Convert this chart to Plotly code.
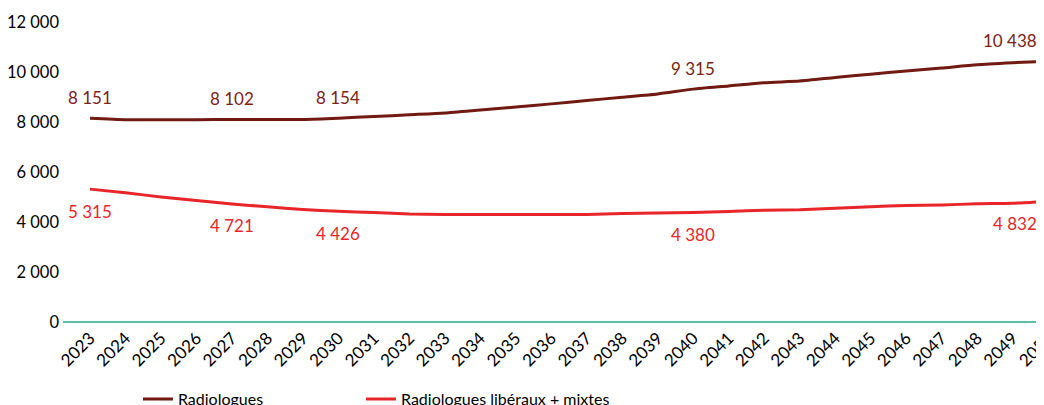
import plotly.graph_objects as go

years = list(range(2023, 2051))

radiologues = [8151, 8095, 8090, 8092, 8102, 8100, 8105, 8154, 8220, 8290,
               8360, 8480, 8600, 8725, 8860, 8990, 9120, 9315, 9440, 9570,
               9640, 9780, 9910, 10040, 10160, 10290, 10370, 10438]

liberaux = [5315, 5170, 5000, 4860, 4721, 4610, 4500, 4426, 4380, 4320,
            4300, 4300, 4300, 4300, 4300, 4340, 4360, 4380, 4420, 4470,
            4490, 4550, 4610, 4660, 4680, 4730, 4750, 4832]

# years that get a value label in the source chart
label_years = [2023, 2027, 2030, 2040, 2050]

y_ticks = [0, 2000, 4000, 6000, 8000, 10000, 12000]
y_ticktext = ["0", "2 000", "4 000", "6 000", "8 000", "10 000", "12 000"]

DARK = "#701A12"
RED = "#E8262A"
FONT = "Lato"


def fmt(v):
    return f"{v:,}".replace(",", " ")


fig = go.Figure()
fig.add_trace(go.Scatter(x=years, y=radiologues, mode="lines", name="Radiologues",
                         legend="legend",
                         line=dict(color=DARK, width=3, shape="spline", smoothing=0.6)))
fig.add_trace(go.Scatter(x=years, y=liberaux, mode="lines", name="Radiologues libéraux + mixtes",
                         legend="legend2",
                         line=dict(color=RED, width=3, shape="spline", smoothing=0.6)))

for yr in label_years:
    i = years.index(yr)
    last = yr == years[-1]
    # the last labels are pulled left so they stay inside the visible page
    fig.add_annotation(x=yr, y=radiologues[i], text=fmt(radiologues[i]), showarrow=False,
                       yshift=21, xshift=-38 if last else 0,
                       font=dict(family=FONT, size=17, color="#7B2216"))
    fig.add_annotation(x=yr, y=liberaux[i], text=fmt(liberaux[i]), showarrow=False,
                       yshift=-22, xshift=-33 if last else 0,
                       font=dict(family=FONT, size=17, color=RED))

leg = dict(orientation="h", xanchor="left", y=-0.257, yanchor="middle",
           font=dict(family=FONT, size=16, color="black"), bgcolor="rgba(0,0,0,0)")

fig.update_layout(
    width=1044, height=405,
    margin=dict(l=55, r=0, t=14, b=91, autoexpand=False),
    plot_bgcolor="white", paper_bgcolor="white",
    font=dict(family=FONT, size=17, color="black"),
    showlegend=True,
    legend=dict(leg, x=0.0758),
    legend2=dict(leg, x=0.3013),
)
fig.update_xaxes(range=[2022.239, 2050.11], tickmode="array", tickvals=years,
                 ticktext=[str(y) for y in years], tickangle=-45,
                 showgrid=False, zeroline=False, showline=False, ticks="",
                 ticklabelstandoff=2, ticklabeloverflow="allow", automargin=False,
                 tickfont=dict(family=FONT, size=17, color="black"))
fig.update_yaxes(range=[0, 12000], tickmode="array", tickvals=y_ticks, ticktext=y_ticktext,
                 showgrid=False, zeroline=True, zerolinecolor="#5BBFA3", zerolinewidth=2,
                 showline=False, ticks="", ticklabelstandoff=3, automargin=False,
                 tickfont=dict(family=FONT, size=16.5, color="black"))

fig.write_html("out.html")
